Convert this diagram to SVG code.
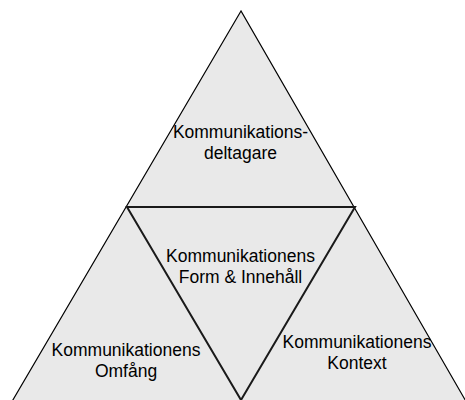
<svg xmlns="http://www.w3.org/2000/svg" width="465" height="400" viewBox="0 0 465 400">
  <style>
    .area { fill: #e9e9e9; stroke: #000; stroke-linejoin: miter; }
    .outer { stroke-width: 1.2; }
    .inner { stroke-width: 2; stroke: #1a1a1a; }
    .label { font-family: "Liberation Sans", Arial, sans-serif; font-size: 17.5px; fill: #000; text-anchor: middle; }
  </style>
  <rect width="465" height="400" fill="#fff"/>
  <!-- outer pyramid, split into four parts by the inverted centre triangle -->
  <g id="pyramid">
    <polygon class="area outer" points="241,11 7,410 471,410"/>
  </g>
  <g id="connectors">
    <polygon class="area inner" points="127,207 355,207 241,400"/>
  </g>
  <g id="deltagare">
    <text class="label" x="240.5" y="138">Kommunikations-</text>
    <text class="label" x="240.5" y="159">deltagare</text>
  </g>
  <g id="form-innehall">
    <text class="label" x="240.5" y="262">Kommunikationens</text>
    <text class="label" x="240.5" y="283">Form &amp; Innehåll</text>
  </g>
  <g id="omfang">
    <text class="label" x="126" y="356">Kommunikationens</text>
    <text class="label" x="126" y="377">Omfång</text>
  </g>
  <g id="kontext">
    <text class="label" x="357" y="348">Kommunikationens</text>
    <text class="label" x="357" y="369">Kontext</text>
  </g>
</svg>
